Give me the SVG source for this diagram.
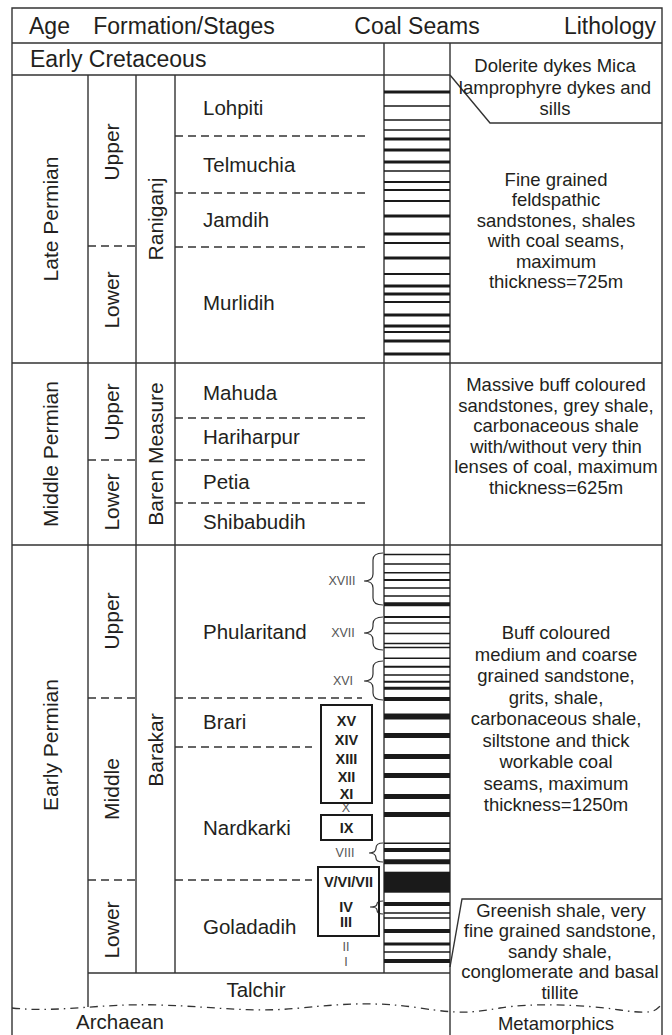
<svg xmlns="http://www.w3.org/2000/svg" width="672" height="1035" viewBox="0 0 672 1035">
<style>
text{font-family:"Liberation Sans",Arial,sans-serif;fill:#231f20}
.h{font-size:23px}
.n{font-size:20.5px}
.r{font-size:21px;text-anchor:middle;dominant-baseline:central}
.l{font-size:18.5px;text-anchor:middle;dominant-baseline:central}
.rn{font-size:12.5px;fill:#555;text-anchor:middle;dominant-baseline:central}
.b{font-size:14.5px;font-weight:bold;text-anchor:middle;dominant-baseline:central}
.f{stroke:#333;stroke-width:1.4;fill:none}
.d{stroke:#333;stroke-width:1.3;fill:none;stroke-dasharray:8 5}
.s{stroke:#1a1a1a}
.br{stroke:#333;stroke-width:1.2;fill:none}
.bx{stroke:#1a1a1a;stroke-width:2;fill:none}
</style>
<g id="frame">
<path class="f" d="M12,1035V8H662V1035M12,43H662M12,75H450M384,43V973M450,43V1035M88,75V1007M136,75V973M175,75V973M12,363H662M12,545H662M88,973H450"/>
<polyline class="f" points="450,75 490,123 662,123"/>
<polyline class="f" points="450,967 462,899 662,899"/>
<path d="M12,1008 C60,1013 100,1003 160,1005 S250,1013 300,1008 S380,1002 420,1008 S470,1013 500,1008 S580,1004 620,1010 S655,1008 662,1005" fill="none" stroke="#333" stroke-width="1.3" stroke-dasharray="8 5 1.5 5"/>
</g>
<g id="dashes">
<path class="d" d="M88,246H136M88,460H136M88,698H136M88,880H136"/>
<path class="d" d="M175,136H366M175,193H366M175,247H366M175,418H366M175,460H366M175,503H366M175,698H362M175,747H312M175,880H312"/>
</g>
<g id="header">
<text class="h" x="29" y="34">Age</text>
<text class="h" x="184" y="34" text-anchor="middle">Formation/Stages</text>
<text class="h" x="417" y="34" text-anchor="middle">Coal Seams</text>
<text class="h" x="610" y="34" text-anchor="middle">Lithology</text>
<text class="h" x="30" y="67">Early Cretaceous</text>
</g>
<g id="ages">
<text class="r" transform="rotate(-90 50 219)" x="50" y="219">Late Permian</text>
<text class="r" transform="rotate(-90 50 454)" x="50" y="454">Middle Permian</text>
<text class="r" transform="rotate(-90 50 745)" x="50" y="745">Early Permian</text>
</g>
<g id="stages">
<text class="r" transform="rotate(-90 111 152)" x="111" y="152">Upper</text>
<text class="r" transform="rotate(-90 111 300)" x="111" y="300">Lower</text>
<text class="r" transform="rotate(-90 111 412)" x="111" y="412">Upper</text>
<text class="r" transform="rotate(-90 111 502)" x="111" y="502">Lower</text>
<text class="r" transform="rotate(-90 111 621)" x="111" y="621">Upper</text>
<text class="r" transform="rotate(-90 111 789)" x="111" y="789">Middle</text>
<text class="r" transform="rotate(-90 111 930)" x="111" y="930">Lower</text>
</g>
<g id="formations">
<text class="r" transform="rotate(-90 155 219)" x="155" y="219">Raniganj</text>
<text class="r" transform="rotate(-90 155 454)" x="155" y="454">Baren Measure</text>
<text class="r" transform="rotate(-90 155 750)" x="155" y="750">Barakar</text>
</g>
<g id="members">
<text class="n" x="203" y="115">Lohpiti</text>
<text class="n" x="203" y="172">Telmuchia</text>
<text class="n" x="203" y="227">Jamdih</text>
<text class="n" x="203" y="310">Murlidih</text>
<text class="n" x="203" y="400">Mahuda</text>
<text class="n" x="203" y="444">Hariharpur</text>
<text class="n" x="203" y="489">Petia</text>
<text class="n" x="203" y="529">Shibabudih</text>
<text class="n" x="203" y="639">Phularitand</text>
<text class="n" x="203" y="729">Brari</text>
<text class="n" x="203" y="835">Nardkarki</text>
<text class="n" x="203" y="934">Goladadih</text>
<text class="n" x="256" y="997" text-anchor="middle">Talchir</text>
<text class="n" x="120" y="1029" text-anchor="middle">Archaean</text>
</g>
<g id="seams" class="s">
<path stroke-width="3" d="M384,92H450M384,139H450M384,150H450M384,162H450M384,216H450M384,234H450M384,258H450M384,286H450M384,294H450M384,315H450M384,326H450M384,341H450M384,354H450"/>
<path stroke-width="1.5" d="M384,106H450M384,120H450M384,130H450M384,171H450"/>
<path stroke-width="2" d="M384,182H450M384,190H450M384,201H450M384,243H450M384,274H450M384,302H450M384,332H450"/>
<path stroke-width="1.5" d="M384,554.5H450M384,564H450M384,572.7H450M384,588H450M384,596H450M384,623H450M384,633.5H450M384,643.5H450M384,647.5H450M384,658.3H450M384,675H450M384,843.3H450M384,913H450M384,918H450M384,952H450"/>
<path stroke-width="2" d="M384,580H450M384,617H450M384,666.7H450M384,681.7H450"/>
<path stroke-width="3" d="M384,688.3H450M384,944H450"/>
<path stroke-width="4" d="M384,604.3H450M384,699H450M384,850H450M384,904H450M384,931H450M384,961H450"/>
<path stroke-width="5" d="M384,735.5H450M384,756.5H450M384,775.5H450M384,796.5H450M384,814.5H450M384,861.7H450"/>
<path stroke-width="6" d="M384,716.5H450"/>
<rect x="384" y="871.7" width="66" height="21" fill="#1a1a1a" stroke="none"/>
</g>
<g id="braces">
<path class="br" d="M383,553 Q373,553 373,560 V574 Q373,581 364,581 Q373,581 373,588 V598 Q373,605 383,605"/>
<path class="br" d="M383,617 Q373,617 373,624 V626 Q373,633 364,633 Q373,633 373,640 V643 Q373,650 383,650"/>
<path class="br" d="M383,661 Q373,661 373,668 V674 Q373,681 364,681 Q373,681 373,688 V693 Q373,700 383,700"/>
<path class="br" d="M383,843 Q376,843 376,848 Q376,853 369,853 Q376,853 376,858 Q376,862 383,862"/>
<path class="br" d="M383,901 Q377,901 377,904 Q377,907 370,907 Q377,907 377,910 Q377,914 383,914"/>
</g>
<g id="seam-labels">
<text class="rn" x="342" y="581">XVIII</text>
<text class="rn" x="343" y="633">XVII</text>
<text class="rn" x="343" y="681">XVI</text>
<text class="rn" x="346" y="808">X</text>
<text class="rn" x="345" y="853">VIII</text>
<text class="rn" x="346" y="947">II</text>
<text class="rn" x="346" y="962">I</text>
<rect class="bx" x="321" y="705" width="51" height="98"/>
<text class="b" x="346.5" y="721">XV</text>
<text class="b" x="346.5" y="740">XIV</text>
<text class="b" x="346.5" y="759">XIII</text>
<text class="b" x="346.5" y="777">XII</text>
<text class="b" x="346.5" y="794">XI</text>
<rect class="bx" x="321" y="815" width="51" height="25"/>
<text class="b" x="346.5" y="828">IX</text>
<rect class="bx" x="318" y="867" width="61" height="69"/>
<text class="b" x="348.5" y="882">V/VI/VII</text>
<text class="b" x="346" y="907">IV</text>
<text class="b" x="346" y="922">III</text>
</g>
<g id="lithology">
<text class="l" x="555" y="65.5">Dolerite dykes Mica</text>
<text class="l" x="555" y="87">lamprophyre dykes and</text>
<text class="l" x="555" y="108.5">sills</text>
<text class="l" x="556" y="179.25">Fine grained</text>
<text class="l" x="556" y="199.75">feldspathic</text>
<text class="l" x="556" y="220.25">sandstones, shales</text>
<text class="l" x="556" y="240.75">with coal seams,</text>
<text class="l" x="556" y="261.25">maximum</text>
<text class="l" x="556" y="281.75">thickness=725m</text>
<text class="l" x="556" y="384.75">Massive buff coloured</text>
<text class="l" x="556" y="405.25">sandstones, grey shale,</text>
<text class="l" x="556" y="425.75">carbonaceous shale</text>
<text class="l" x="556" y="446.25">with/without very thin</text>
<text class="l" x="556" y="466.75">lenses of coal, maximum</text>
<text class="l" x="556" y="487.25">thickness=625m</text>
<text class="l" x="556" y="632.5">Buff coloured</text>
<text class="l" x="556" y="654">medium and coarse</text>
<text class="l" x="556" y="675.5">grained sandstone,</text>
<text class="l" x="556" y="697">grits, shale,</text>
<text class="l" x="556" y="718.5">carbonaceous shale,</text>
<text class="l" x="556" y="740">siltstone and thick</text>
<text class="l" x="556" y="761.5">workable coal</text>
<text class="l" x="556" y="783">seams, maximum</text>
<text class="l" x="556" y="804.5">thickness=1250m</text>
<text class="l" x="561" y="910">Greenish shale, very</text>
<text class="l" x="560" y="930.5">fine grained sandstone,</text>
<text class="l" x="560" y="951">sandy shale,</text>
<text class="l" x="560" y="971.5">conglomerate and basal</text>
<text class="l" x="560" y="992">tillite</text>
<text class="l" x="556" y="1023">Metamorphics</text>
</g>
</svg>
